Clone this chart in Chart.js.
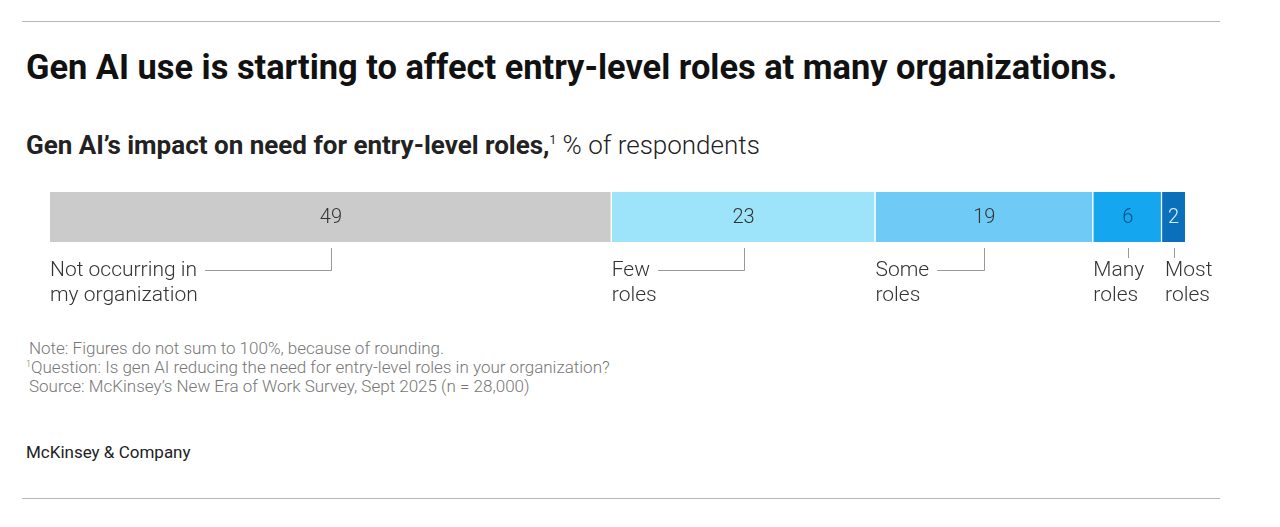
<!DOCTYPE html>
<html>
<head>
<meta charset="utf-8">
<script src="https://cdn.jsdelivr.net/npm/chart.js@4"></script>
<style>
  body { margin: 0; background: #fff; width: 1280px; height: 527px; position: relative; overflow: hidden; font-family: "Liberation Sans Narrow", Roboto, sans-serif; }
  .rule { position: absolute; left: 22px; width: 1198px; height: 0; border-top: 1.5px solid #b5b5b5; }
  #title { position: absolute; left: 26px; top: 47px; font-family: Roboto, sans-serif; font-weight: 700; font-size: 34.4px; line-height: 40px; color: #111; white-space: nowrap; }
  #sub { position: absolute; left: 26px; top: 130px; font-family: Roboto, sans-serif; font-size: 26px; line-height: 30px; color: #222; white-space: nowrap; }
  #sub b { font-weight: 700; }
  #sub sup { font-size: 12px; line-height: 0; vertical-align: 10px; }
  #sub span { font-weight: 300; }
  .note { position: absolute; left: 29px; font-family: Roboto, sans-serif; font-weight: 300; font-size: 17px; line-height: 20px; color: #777; white-space: nowrap; }
  .note sup { font-size: 9px; line-height: 0; vertical-align: 6px; }
  #brand { position: absolute; left: 26px; top: 442px; font-family: Roboto, sans-serif; font-size: 17px; line-height: 20px; color: #222; }
  #wrap { position: absolute; left: 0; top: 170px; width: 1280px; height: 150px; }
</style>
</head>
<body>
<div class="rule" style="top:21px"></div>
<div id="title">Gen AI use is starting to affect entry-level roles at many organizations.</div>
<div id="sub"><b>Gen AI’s impact on need for entry-level roles,</b><sup>1</sup><span> % of respondents</span></div>
<div id="wrap"><canvas id="grafica"></canvas></div>
<div class="note" style="top:338px">Note: Figures do not sum to 100%, because of rounding.</div>
<div class="note" style="top:357px;left:26px"><sup>1</sup>Question: Is gen AI reducing the need for entry-level roles in your organization?</div>
<div class="note" style="top:376px">Source: McKinsey’s New Era of Work Survey, Sept 2025 (n = 28,000)</div>
<div id="brand">McKinsey &amp; Company</div>
<div class="rule" style="top:498px"></div>

<script>
const categorias = [["Not occurring in", "my organization"], ["Few", "roles"], ["Some", "roles"], ["Many", "roles"], ["Most", "roles"]];
const valores = [49, 23, 19, 6, 2];
const colores = ["#cbcbcb", "#9de4fb", "#6fcbf5", "#14a7ef", "#0b70bb"];
const coloresTexto = ["#333", "#333", "#333", "#0d4f80", "#d8eeff"];

(function () {
	const ctx = document.getElementById("grafica");

	const etiquetas = {
		id: "etiquetas",
		afterDatasetsDraw(chart) {
			const c = chart.ctx;
			c.save();
			chart.data.datasets.forEach((ds, i) => {
				const bar = chart.getDatasetMeta(i).data[0];
				const izq = Math.min(bar.x, bar.base);
				const der = Math.max(bar.x, bar.base);
				const centro = (izq + der) / 2;
				const abajo = bar.y + bar.height / 2;

				// valor dentro de la barra
				c.font = "300 20px 'Liberation Sans Narrow', Roboto, sans-serif";
				c.fillStyle = coloresTexto[i];
				c.textAlign = "center";
				c.textBaseline = "middle";
				c.fillText(ds.data[0], centro, bar.y + 1);

				// etiqueta debajo
				const lineas = categorias[i];
				c.font = "300 21px 'Liberation Sans Narrow', Roboto, sans-serif";
				c.fillStyle = "#333";
				c.textAlign = "left";
				const xTexto = izq + (i === 4 ? 3 : 0);
				const y1 = abajo + 29;
				c.fillText(lineas[0], xTexto, y1);
				c.fillText(lineas[1], xTexto, y1 + 25);

				// linea guia
				c.strokeStyle = "#999";
				c.lineWidth = 1;
				c.beginPath();
				if (i < 3) {
					const fin = xTexto + c.measureText(lineas[0]).width + 8;
					c.moveTo(Math.round(centro) + 0.5, abajo + 6);
					c.lineTo(Math.round(centro) + 0.5, y1 - 0.5);
					c.lineTo(fin, y1 - 0.5);
				} else {
					c.moveTo(Math.round(centro) + 0.5, abajo + 6);
					c.lineTo(Math.round(centro) + 0.5, abajo + 16);
				}
				c.stroke();
			});
			c.restore();
		}
	};

	new Chart(ctx, {
		type: "bar",
		data: {
			labels: [""],
			datasets: valores.map((v, i) => ({
				label: categorias[i].join(" "),
				data: [v],
				backgroundColor: colores[i],
				borderColor: "#fff",
				borderWidth: { top: 0, right: i < valores.length - 1 ? 1.5 : 0, bottom: 0, left: 0 },
				borderSkipped: false,
				barPercentage: 1,
				categoryPercentage: 1,
			})),
		},
		options: {
			indexAxis: "y",
			responsive: true,
			maintainAspectRatio: false,
			animation: false,
			layout: { padding: { left: 50, right: 95, top: 22, bottom: 78 } },
			scales: {
				x: { stacked: true, min: 0, max: 99, display: false },
				y: { stacked: true, display: false },
			},
			plugins: {
				legend: { display: false },
				tooltip: { enabled: false },
			},
		},
		plugins: [etiquetas],
	});
})();
</script>
</body>
</html>
